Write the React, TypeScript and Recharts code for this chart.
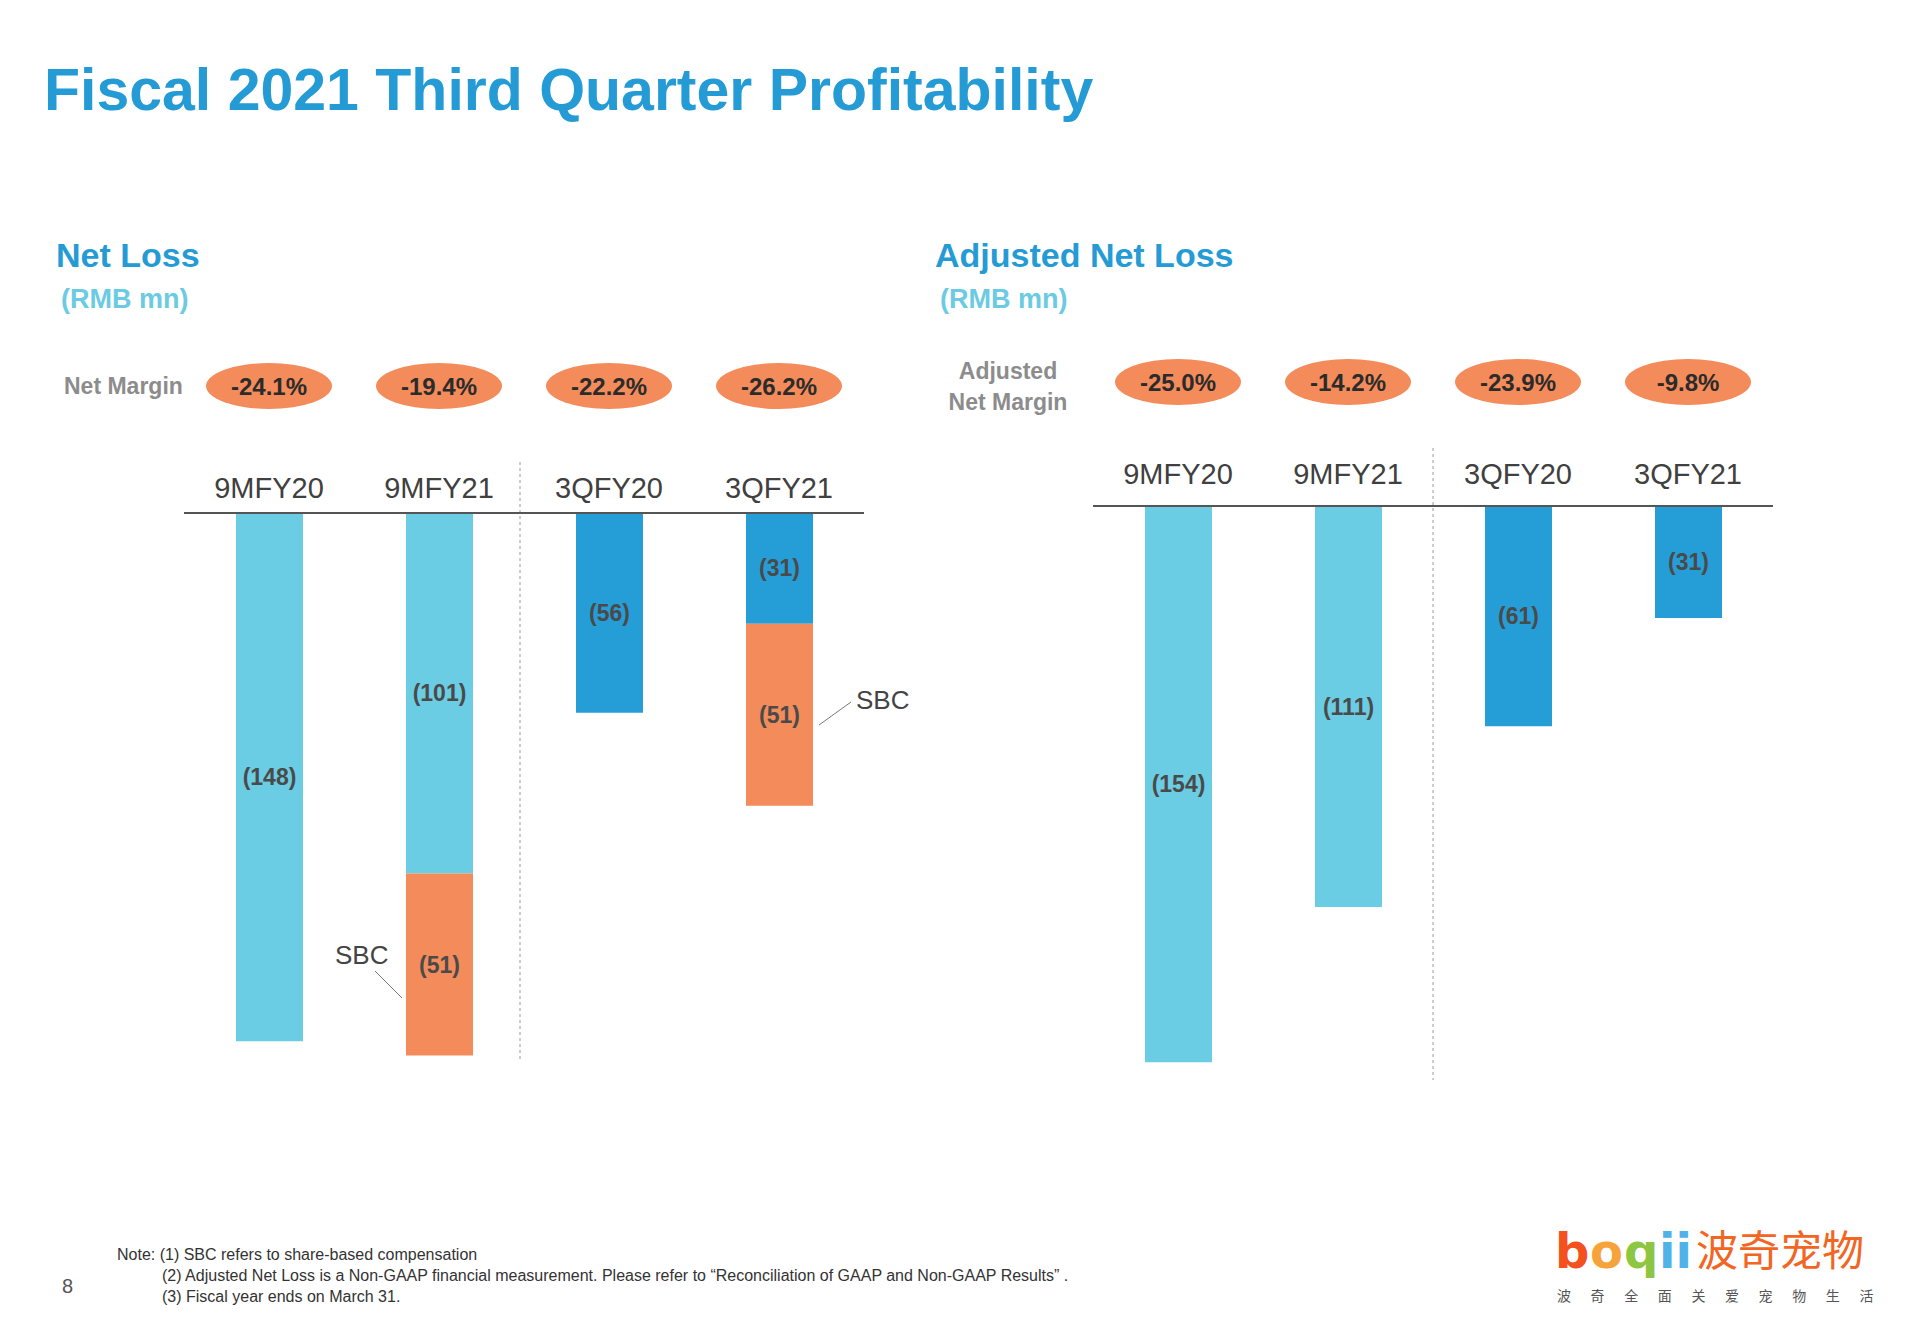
import React from "react";
import { BarChart, Bar, XAxis, YAxis, Cell, LabelList } from "recharts";

const categories = ["9MFY20", "9MFY21", "3QFY20", "3QFY21"];
const netLossBase = [-148, -101, -56, -31];
const netLossSbc = [0, -51, 0, -51];
const netMargins = ["-24.1%", "-19.4%", "-22.2%", "-26.2%"];
const adjNetLoss = [-154, -111, -61, -31];
const adjMargins = ["-25.0%", "-14.2%", "-23.9%", "-9.8%"];

const FONT = "'Liberation Sans', Arial, Helvetica, sans-serif";
const LIGHT = "#6BCDE4";
const DARK = "#259DD7";
const ORANGE = "#F48B5A";
const periodColor = (i: number) => (i < 2 ? LIGHT : DARK);

const netData = categories.map((c, i) => ({ cat: c, base: netLossBase[i], sbc: netLossSbc[i] }));
const adjData = categories.map((c, i) => ({ cat: c, adj: adjNetLoss[i] }));

const fmt = (v: any) => (v ? `(${Math.abs(Number(v))})` : "");

// tick = category name plus the margin pill far above it
function makeTick(margins: string[], labelGap: number, pillGap: number) {
  return (props: any) => {
    const { x, y, payload } = props;
    const idx = payload?.index ?? props.index ?? 0;
    return (
      <g>
        <ellipse cx={x} cy={y - pillGap} rx={63} ry={23} fill={ORANGE} />
        <text x={x} y={y - pillGap + 9} textAnchor="middle" fontFamily={FONT} fontSize={24} fontWeight="bold" fill="#2b2b2b">
          {margins[idx]}
        </text>
        <text x={x} y={y - labelGap} textAnchor="middle" fontFamily={FONT} fontSize={29} fill="#404040">
          {payload.value}
        </text>
      </g>
    );
  };
}

const labelProps = { fill: "#4a4a4a", fontSize: 23, fontWeight: "bold", fontFamily: FONT };
const LOGO_FONT = "'DejaVu Sans', sans-serif";

export default function App() {
  return (
    <div style={{ position: "absolute", left: 0, top: 0, width: 1920, height: 1329, background: "#fff", overflow: "hidden", fontFamily: FONT }}>
      <svg width={1920} height={1329} style={{ position: "absolute", left: 0, top: 0 }}>
        <text x={44} y={110} fontSize={59} fontWeight="bold" fill="#259BD6" fontFamily={FONT}>
          Fiscal 2021 Third Quarter Profitability
        </text>
        <text x={56} y={267} fontSize={34} fontWeight="bold" fill="#259BD6" fontFamily={FONT}>Net Loss</text>
        <text x={61} y={308} fontSize={27} fontWeight="bold" fill="#6BCBE3" fontFamily={FONT}>(RMB mn)</text>
        <text x={935} y={267} fontSize={34} fontWeight="bold" fill="#259BD6" fontFamily={FONT}>Adjusted Net Loss</text>
        <text x={940} y={308} fontSize={27} fontWeight="bold" fill="#6BCBE3" fontFamily={FONT}>(RMB mn)</text>

        <text x={64} y={394} fontSize={23} fontWeight="bold" fill="#8C8C8C" fontFamily={FONT}>Net Margin</text>
        <text x={1008} y={379} textAnchor="middle" fontSize={23} fontWeight="bold" fill="#8C8C8C" fontFamily={FONT}>Adjusted</text>
        <text x={1008} y={410} textAnchor="middle" fontSize={23} fontWeight="bold" fill="#8C8C8C" fontFamily={FONT}>Net Margin</text>

        <line x1={520} y1={462} x2={520} y2={1059} stroke="#9a9a9a" strokeDasharray="3 3" />
        <line x1={1433} y1={448} x2={1433} y2={1080} stroke="#9a9a9a" strokeDasharray="3 3" />

        <text x={335} y={964} fontSize={26} fill="#444" fontFamily={FONT}>SBC</text>
        <line x1={375} y1={971} x2={402} y2={998} stroke="#777" />
        <text x={856} y={709} fontSize={26} fill="#444" fontFamily={FONT}>SBC</text>
        <line x1={851} y1={702} x2={819} y2={725} stroke="#777" />

        <text x={117} y={1260} fontSize={16} fill="#333" fontFamily={FONT}>Note: (1) SBC refers to share-based compensation</text>
        <text x={162} y={1281} fontSize={16} fill="#333" fontFamily={FONT}>
          (2) Adjusted Net Loss is a Non-GAAP financial measurement. Please refer to “Reconciliation of GAAP and Non-GAAP Results” .
        </text>
        <text x={162} y={1302} fontSize={16} fill="#333" fontFamily={FONT}>(3) Fiscal year ends on March 31.</text>
        <text x={62} y={1293} fontSize={20} fill="#555" fontFamily={FONT}>8</text>

        {/* logo */}
        <text x={1555} y={1268} fontSize={48} fontWeight="bold" fontFamily={LOGO_FONT} fill="#F4511E">b</text>
        <text x={1590} y={1268} fontSize={48} fontWeight="bold" fontFamily={LOGO_FONT} fill="#F6A33C">o</text>
        <text x={1624} y={1268} fontSize={48} fontWeight="bold" fontFamily={LOGO_FONT} fill="#8DC641">q</text>
        <text x={1659} y={1268} fontSize={48} fontWeight="bold" fontFamily={LOGO_FONT} fill="#4FB3E8">ii</text>
        <text x={1696} y={1266} fontSize={42} fill="#F26522" fontFamily="'Noto Sans CJK SC', sans-serif">波奇宠物</text>
        <text x={1557} y={1301} fontSize={14} fill="#555" letterSpacing={19.6} fontFamily="'Noto Sans CJK SC', sans-serif">
          波奇全面关爱宠物生活
        </text>
      </svg>

      <div style={{ position: "absolute", left: 184, top: 340 }}>
        <BarChart width={680} height={750} data={netData} margin={{ top: 143, right: 0, bottom: 6, left: 0 }} barSize={67}>
          <XAxis
            dataKey="cat"
            orientation="top"
            interval={0}
            tickLine={false}
            tickSize={0}
            tickMargin={0}
            axisLine={{ stroke: "#555", strokeWidth: 2 }}
            tick={makeTick(netMargins, 15, 127)}
          />
          <YAxis hide type="number" domain={[-160, 0]} />
          <Bar dataKey="base" stackId="a" isAnimationActive={false}>
            {netData.map((d, i) => (
              <Cell key={d.cat} fill={periodColor(i)} />
            ))}
            <LabelList dataKey="base" position="center" formatter={fmt} {...labelProps} />
          </Bar>
          <Bar dataKey="sbc" stackId="a" fill={ORANGE} isAnimationActive={false}>
            <LabelList dataKey="sbc" position="center" formatter={fmt} {...labelProps} />
          </Bar>
        </BarChart>
      </div>

      <div style={{ position: "absolute", left: 1093, top: 340 }}>
        <BarChart width={680} height={750} data={adjData} margin={{ top: 136, right: 0, bottom: 6, left: 0 }} barSize={67}>
          <XAxis
            dataKey="cat"
            orientation="top"
            interval={0}
            tickLine={false}
            tickSize={0}
            tickMargin={0}
            axisLine={{ stroke: "#555", strokeWidth: 2 }}
            tick={makeTick(adjMargins, 22, 124)}
          />
          <YAxis hide type="number" domain={[-160, 0]} />
          <Bar dataKey="adj" isAnimationActive={false}>
            {adjData.map((d, i) => (
              <Cell key={d.cat} fill={periodColor(i)} />
            ))}
            <LabelList dataKey="adj" position="center" formatter={fmt} {...labelProps} />
          </Bar>
        </BarChart>
      </div>
    </div>
  );
}
